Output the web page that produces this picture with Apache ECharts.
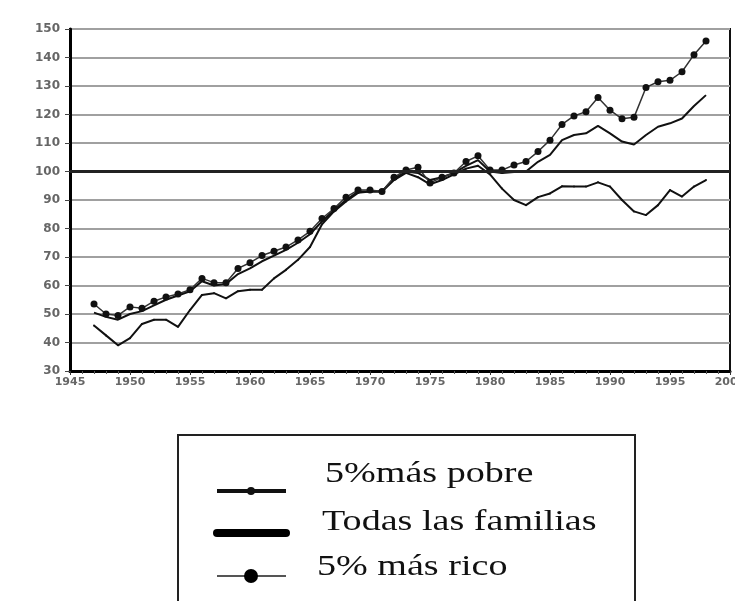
<!DOCTYPE html>
<html>
<head>
<meta charset="utf-8">
<script src="https://cdn.jsdelivr.net/npm/echarts@6/dist/echarts.min.js"></script>
<style>html,body{margin:0;padding:0;background:#fff}#c{width:735px;height:601px}</style>
</head>
<body>
<div id="c"></div>
<script>
var years = [1947,1948,1949,1950,1951,1952,1953,1954,1955,1956,1957,1958,1959,1960,1961,1962,1963,1964,1965,1966,1967,1968,1969,1970,1971,1972,1973,1974,1975,1976,1977,1978,1979,1980,1981,1982,1983,1984,1985,1986,1987,1988,1989,1990,1991,1992,1993,1994,1995,1996,1997,1998];
var seriesNames = ['5%más pobre', 'Todas las familias', '5% más rico'];
var pobre = [46,42.5,39,41.5,46.5,48,48,45.5,51.4,56.7,57.3,55.5,58,58.5,58.5,62.5,65.5,69,73.5,81.5,86,89.5,92.5,93,93,97,99.5,98,95.5,97,99,101,102,99,94,90,88.2,91,92.3,94.8,94.7,94.7,96.2,94.7,90,86,84.7,88.2,93.5,91.2,94.7,97];
var todas = [50.5,49,48,50,51,53,55,56.5,58,61.5,60,60.5,64,66,68.5,70.5,72.5,75,78,82.5,86.5,90,93,93,93,97.5,100,99.5,97,98,99.5,102,104,100,99.5,99.8,100,103.4,105.8,111,112.8,113.4,116,113.4,110.5,109.5,112.8,115.7,116.9,118.6,123,126.8];
var rico = [53.5,50,49.5,52.5,52,54.5,56,57,58.5,62.5,61,61,66,68,70.5,72,73.5,76,79,83.5,87,91,93.5,93.5,93,98,100.5,101.5,96,98,99.5,103.5,105.5,100.5,100.5,102.3,103.5,107,111,116.5,119.5,121,126,121.5,118.5,119,129.5,131.5,132,135,141,145.8];
var yTicks = {min: 30, max: 150, step: 10};
var xTicks = {min: 1945, max: 2000, step: 5};
var refValue = 100;

function pairs(vals) { return years.map(function (y, i) { return [y, vals[i]]; }); }

var chart = echarts.init(document.getElementById('c'), null, {renderer: 'canvas'});
var labelFont = {color: '#666', fontSize: 12, fontWeight: 'bold', fontFamily: 'DejaVu Sans'};
var legendRows = [
  {y: 491, ty: 474, tx: 325, lw: 4, lc: '#111', r: 4, rc: '#111'},
  {y: 533, ty: 522, tx: 322, lw: 8, lc: '#000', r: 0},
  {y: 576, ty: 567, tx: 317, lw: 2, lc: '#555', r: 7, rc: '#000'}
];
var graphics = [{
  type: 'rect', shape: {x: 178, y: 435, width: 457, height: 220},
  style: {fill: 'none', stroke: '#222', lineWidth: 2}
}];
legendRows.forEach(function (r, i) {
  graphics.push({type: 'line', shape: {x1: 217, y1: r.y, x2: 286, y2: r.y},
    style: {stroke: r.lc, lineWidth: r.lw, lineCap: i === 1 ? 'round' : 'butt'}});
  if (r.r) graphics.push({type: 'circle', shape: {cx: 251, cy: r.y, r: r.r}, style: {fill: r.rc}});
  graphics.push({type: 'text', x: r.tx, y: r.ty, scaleX: 1.27,
    style: {text: seriesNames[i], x: 0, y: 0, fill: '#111', fontSize: 30, fontFamily: 'Liberation Serif', verticalAlign: 'middle', align: 'left'}});
});

chart.setOption({
  animation: false,
  backgroundColor: '#fff',
  grid: {left: 70, top: 29, right: 5, bottom: 230, show: true, borderColor: '#111', borderWidth: 2,
    backgroundColor: 'transparent', containLabel: false, outerBoundsMode: 'none'},
  xAxis: {
    type: 'value', min: xTicks.min, max: xTicks.max, interval: xTicks.step,
    axisLine: {show: true, onZero: false, lineStyle: {color: '#000', width: 3}},
    axisTick: {show: true, length: 4, inside: false, lineStyle: {color: '#333'}},
    minorTick: {show: true, splitNumber: 5, length: 3, lineStyle: {color: '#555'}},
    splitLine: {show: false},
    axisLabel: Object.assign({margin: 6, hideOverlap: false, formatter: function (v) { return String(v); }}, labelFont, {fontSize: 11})
  },
  yAxis: {
    type: 'value', min: yTicks.min, max: yTicks.max, interval: yTicks.step,
    axisLine: {show: true, lineStyle: {color: '#000', width: 3}},
    axisTick: {show: true, length: 5, lineStyle: {color: '#444'}},
    splitLine: {show: true, lineStyle: {color: '#a0a0a0', width: 2}},
    axisLabel: Object.assign({margin: 10}, labelFont)
  },
  graphic: graphics,
  series: [
    {name: seriesNames[0], type: 'line', data: pairs(pobre), symbol: 'circle', symbolSize: 2, showSymbol: true,
      lineStyle: {color: '#111', width: 2}, itemStyle: {color: '#111'},
      markLine: {silent: true, symbol: 'none', label: {show: false}, lineStyle: {color: '#222', width: 3, type: 'solid'}, data: [{yAxis: refValue}]}},
    {name: seriesNames[1], type: 'line', data: pairs(todas), symbol: 'none',
      lineStyle: {color: '#111', width: 2}},
    {name: seriesNames[2], type: 'line', data: pairs(rico), symbol: 'circle', symbolSize: 7, showSymbol: true,
      lineStyle: {color: '#333', width: 1.5}, itemStyle: {color: '#111'}}
  ]
});
</script>
</body>
</html>
